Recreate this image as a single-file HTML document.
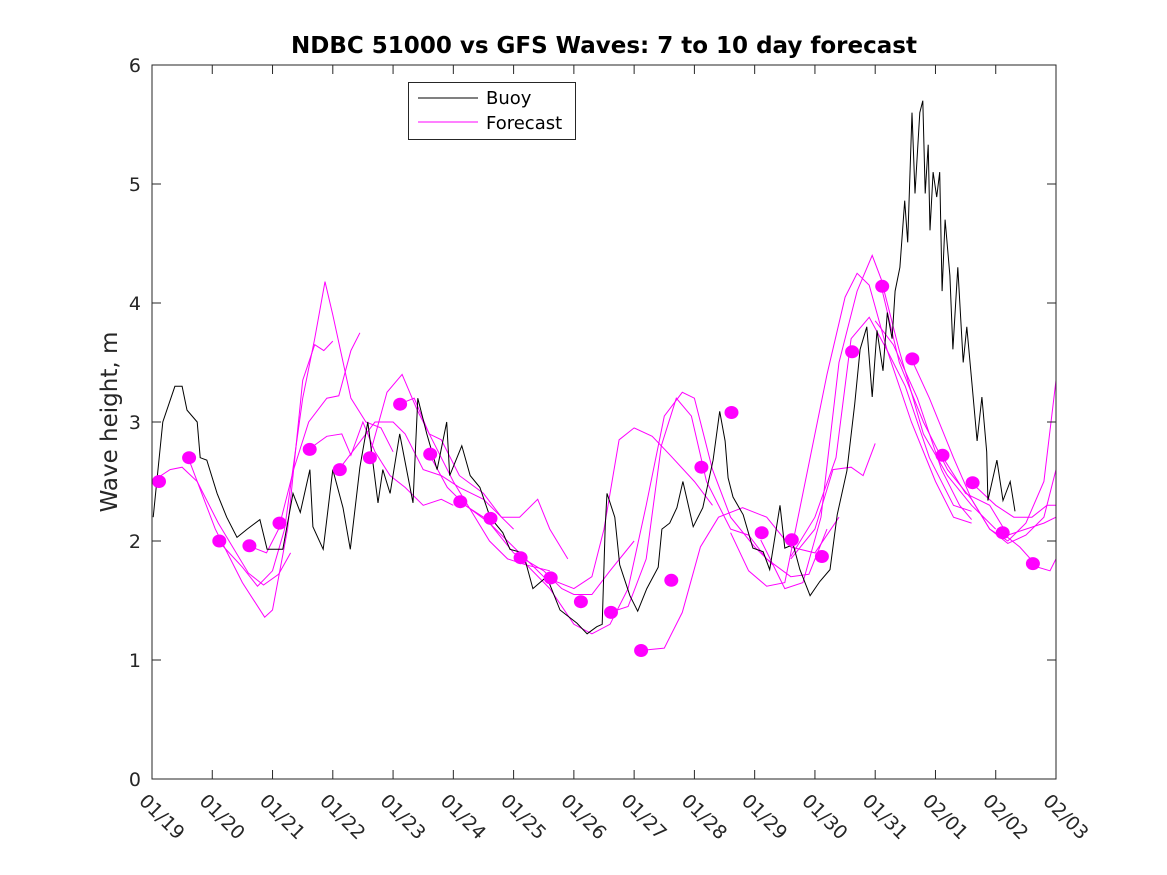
<!DOCTYPE html>
<html><head><meta charset="utf-8">
<style>
html,body{margin:0;padding:0;background:#fff;}
svg{display:block;font-family:"DejaVu Sans","Liberation Sans",sans-serif;}
</style></head>
<body>
<svg id="chart" width="1167" height="875" viewBox="0 0 1167 875" xmlns="http://www.w3.org/2000/svg">
<rect width="1167" height="875" fill="#fff"/>
<text x="604" y="53" text-anchor="middle" font-size="23" font-weight="bold" fill="#000">NDBC 51000 vs GFS Waves: 7 to 10 day forecast</text>
<text transform="translate(117,422) rotate(-90)" text-anchor="middle" font-size="23" fill="#262626">Wave height, m</text>
<g id="plot"></g>
<g id="axes"></g>
<g>
<rect x="408.5" y="82.5" width="167" height="57" fill="#fff" stroke="#262626" stroke-width="1"/>
<line x1="418" y1="98" x2="478" y2="98" stroke="#000" stroke-width="1"/>
<text x="486" y="104" font-size="18" fill="#000">Buoy</text>
<line x1="418" y1="122" x2="478" y2="122" stroke="#ff00ff" stroke-width="1"/>
<text x="486" y="129" font-size="18" fill="#000">Forecast</text>
</g>
</svg>
<script>
const xTickLabels=["01/19","01/20","01/21","01/22","01/23","01/24","01/25","01/26","01/27","01/28","01/29","01/30","01/31","02/01","02/02","02/03"];
const yTicks=[0,1,2,3,4,5,6];
const buoyDay=[0.02,0.18,0.38,0.50,0.58,0.75,0.80,0.91,1.08,1.24,1.41,1.58,1.79,1.91,2.17,2.34,2.46,2.62,2.67,2.84,3.00,3.17,3.29,3.45,3.58,3.75,3.83,3.95,4.11,4.33,4.41,4.56,4.73,4.89,4.94,5.14,5.28,5.44,5.61,5.82,5.94,6.16,6.32,6.55,6.77,7.05,7.22,7.38,7.47,7.52,7.55,7.68,7.76,7.93,8.06,8.21,8.40,8.46,8.59,8.71,8.81,8.98,9.14,9.31,9.42,9.51,9.56,9.64,9.81,9.97,10.14,10.25,10.42,10.50,10.64,10.75,10.92,11.08,11.25,11.37,11.53,11.66,11.75,11.86,11.95,12.03,12.13,12.20,12.28,12.33,12.41,12.49,12.54,12.61,12.66,12.74,12.79,12.83,12.88,12.91,12.96,13.02,13.07,13.11,13.16,13.24,13.29,13.37,13.46,13.52,13.61,13.69,13.77,13.85,13.87,14.02,14.12,14.24,14.32];
const buoyHs=[2.2,3.0,3.3,3.3,3.1,3.0,2.7,2.68,2.4,2.2,2.03,2.1,2.18,1.93,1.93,2.4,2.24,2.6,2.12,1.93,2.6,2.28,1.93,2.62,3.0,2.32,2.6,2.4,2.9,2.32,3.2,2.9,2.6,3.0,2.55,2.8,2.55,2.45,2.2,2.07,1.93,1.9,1.6,1.7,1.42,1.31,1.22,1.28,1.3,2.12,2.4,2.2,1.8,1.54,1.41,1.6,1.78,2.1,2.15,2.28,2.5,2.12,2.28,2.68,3.09,2.84,2.53,2.37,2.22,1.94,1.91,1.76,2.3,1.94,1.97,1.76,1.54,1.66,1.76,2.22,2.59,3.15,3.61,3.8,3.21,3.77,3.43,3.92,3.7,4.1,4.3,4.86,4.51,5.6,4.92,5.6,5.7,4.92,5.33,4.61,5.1,4.89,5.1,4.1,4.7,4.23,3.61,4.3,3.5,3.8,3.3,2.84,3.21,2.75,2.34,2.68,2.34,2.5,2.25];
const dotDay=[0.116,0.616,1.116,1.616,2.116,2.616,3.116,3.616,4.116,4.616,5.116,5.616,6.116,6.616,7.116,7.616,8.116,8.616,9.116,9.616,10.116,10.616,11.116,11.616,12.116,12.616,13.116,13.616,14.116,14.616];
const dotHs=[2.5,2.7,2.0,1.96,2.15,2.77,2.6,2.7,3.15,2.73,2.33,2.19,1.86,1.69,1.49,1.40,1.08,1.67,2.62,3.08,2.07,2.01,1.87,3.59,4.14,3.53,2.72,2.49,2.07,1.81];
const fcA=[[0.0,2.5],[0.3,2.6],[0.5,2.62],[0.75,2.5],[1.1,2.15],[1.6,1.73],[1.85,1.63],[2.1,1.72],[2.3,1.9]];
const fcB=[[0.6,2.7],[1.05,2.1],[1.5,1.65],[1.87,1.36],[2.0,1.42],[2.25,2.1],[2.5,3.35],[2.7,3.65],[2.85,3.6],[3.0,3.68]];
const fcC=[[1.1,2.0],[1.5,1.78],[1.75,1.62],[2.0,1.75],[2.2,2.1],[2.5,3.2],[2.7,3.7],[2.87,4.18],[3.0,3.9],[3.3,3.2],[3.55,3.0],[3.8,2.95],[4.0,2.75]];
const fcD=[[1.6,1.96],[1.9,1.9],[2.1,2.1],[2.35,2.6],[2.6,3.0],[2.9,3.2],[3.1,3.22],[3.3,3.6],[3.45,3.75]];
const fcE=[[2.6,2.77],[2.9,2.88],[3.15,2.9],[3.3,2.72],[3.5,3.0],[3.7,2.75],[3.95,2.55],[4.2,2.45],[4.5,2.3],[4.8,2.35],[5.0,2.3]];
const fcF=[[3.1,2.6],[3.4,2.8],[3.7,3.0],[4.0,3.0],[4.2,2.9],[4.5,2.6],[4.8,2.55],[5.1,2.45],[5.5,2.35],[5.8,2.2],[6.0,2.1]];
const fcG=[[3.6,2.7],[3.9,3.25],[4.15,3.4],[4.4,3.1],[4.7,2.8],[5.0,2.5],[5.3,2.25],[5.6,2.0],[5.9,1.85],[6.2,1.8],[6.6,1.75]];
const fcH=[[4.1,3.15],[4.35,3.2],[4.6,2.9],[4.8,2.85],[5.1,2.55],[5.5,2.4],[5.8,2.2],[6.1,2.2],[6.4,2.35],[6.6,2.1],[6.9,1.85]];
const fcI=[[4.6,2.73],[4.9,2.45],[5.2,2.3],[5.6,2.15],[6.0,1.9],[6.5,1.75],[6.8,1.6],[7.0,1.55],[7.3,1.55],[7.6,1.75],[8.0,2.0]];
const fcJ=[[5.1,2.33],[5.5,2.2],[6.0,1.95],[6.5,1.7],[7.0,1.6],[7.3,1.7],[7.5,2.1],[7.75,2.85],[8.0,2.95],[8.3,2.88],[8.6,2.72],[9.0,2.5],[9.3,2.3]];
const fcK=[[6.1,1.86],[6.6,1.6],[7.0,1.3],[7.3,1.22],[7.6,1.3],[7.9,1.6],[8.2,2.3],[8.5,3.05],[8.8,3.25],[9.0,3.2],[9.3,2.6],[9.6,2.2],[10.0,1.95],[10.3,1.8]];
const fcL=[[7.6,1.4],[7.9,1.45],[8.2,1.85],[8.45,2.8],[8.7,3.2],[8.95,3.05],[9.2,2.5],[9.6,2.1],[9.9,2.05],[10.2,1.85],[10.6,1.7],[10.9,1.72],[11.2,2.1]];
const fcM=[[8.1,1.08],[8.5,1.1],[8.8,1.4],[9.1,1.95],[9.4,2.2],[9.8,2.28],[10.2,2.2],[10.6,1.95],[11.0,1.9],[11.4,2.2]];
const fcN=[[9.6,2.07],[9.9,1.75],[10.2,1.62],[10.5,1.65],[10.8,2.4],[11.2,3.4],[11.5,4.05],[11.7,4.25],[11.9,4.15],[12.2,3.6],[12.6,3.0],[13.0,2.5],[13.3,2.2],[13.6,2.15]];
const fcO=[[10.1,2.01],[10.5,1.6],[10.8,1.65],[11.1,2.2],[11.4,3.5],[11.7,4.1],[11.95,4.4],[12.1,4.2],[12.4,3.6],[12.8,2.9],[13.2,2.55],[13.6,2.3],[14.0,2.1]];
const fcP=[[10.6,1.87],[11.0,2.2],[11.35,2.7],[11.6,3.7],[11.9,3.88],[12.2,3.6],[12.5,3.3],[12.9,2.7],[13.3,2.3],[13.6,2.25]];
const fcQ=[[10.6,1.85],[11.0,2.1],[11.3,2.6],[11.6,2.62],[11.8,2.55],[12.0,2.82]];
const fcR=[[12.1,4.14],[12.4,3.5],[12.8,3.0],[13.2,2.6],[13.6,2.35],[13.9,2.1],[14.2,1.98],[14.5,2.05],[14.8,2.2],[15.0,2.6]];
const fcS=[[12.6,3.53],[12.9,3.2],[13.3,2.7],[13.6,2.35],[13.9,2.1],[14.2,2.0],[14.5,2.15],[14.8,2.5],[15.0,3.35]];
const fcT=[[13.1,2.72],[13.5,2.4],[13.9,2.3],[14.2,2.05],[14.5,2.1],[14.8,2.15],[15.0,2.2]];
const fcU=[[13.6,2.49],[14.0,2.3],[14.3,2.2],[14.6,2.2],[14.85,2.3],[15.0,2.3]];
const fcV=[[14.1,2.07],[14.4,1.95],[14.7,1.78],[14.9,1.75],[15.0,1.85]];
const fcW=[[12.0,3.85],[12.3,3.65],[12.7,3.2],[13.1,2.6],[13.4,2.3],[13.6,2.18]];
const forecasts=[fcA,fcB,fcC,fcD,fcE,fcF,fcG,fcH,fcI,fcJ,fcK,fcL,fcM,fcN,fcO,fcP,fcQ,fcR,fcS,fcT,fcU,fcV,fcW];

const NS="http://www.w3.org/2000/svg";
const L=152,R=1056,T=65,B=779,XMAX=15,YMAX=6;
function xs(d){return L+(R-L)*d/XMAX;}
function ys(v){return B-(B-T)*v/YMAX;}
const plot=document.getElementById('plot');
const axes=document.getElementById('axes');
function mk(tag,attrs,parent){const e=document.createElementNS(NS,tag);for(const k in attrs)e.setAttribute(k,attrs[k]);parent.appendChild(e);return e;}

forecasts.forEach((f,i)=>{
  const p=mk('polyline',{points:f.map(q=>xs(q[0]).toFixed(1)+','+ys(q[1]).toFixed(1)).join(' '),fill:'none',stroke:'#ff00ff','stroke-width':1},plot);
  
  
});
const bl=mk('polyline',{points:buoyDay.map((d,i)=>xs(d).toFixed(1)+','+ys(buoyHs[i]).toFixed(1)).join(' '),fill:'none',stroke:'#000','stroke-width':1},plot);


dotDay.forEach((d,i)=>{
  const c=mk('ellipse',{cx:xs(d).toFixed(1),cy:ys(dotHs[i]).toFixed(1),rx:7,ry:6.5,fill:'#ff00ff'},plot);
  
  
});

const frame=mk('rect',{x:L,y:T,width:R-L,height:B-T,fill:'none',stroke:'#262626','stroke-width':1},axes);


yTicks.forEach(v=>{
  const y=ys(v);
  mk('line',{x1:L,y1:y,x2:L+9,y2:y,stroke:'#262626'},axes);
  mk('line',{x1:R,y1:y,x2:R-9,y2:y,stroke:'#262626'},axes);
  const t=mk('text',{x:L-11,y:y+7,'text-anchor':'end','font-size':19,fill:'#262626'},axes);
  t.textContent=v;
  
  
});
xTickLabels.forEach((lab,i)=>{
  const x=xs(i);
  mk('line',{x1:x,y1:B,x2:x,y2:B-9,stroke:'#262626'},axes);
  mk('line',{x1:x,y1:T,x2:x,y2:T+9,stroke:'#262626'},axes);
  const t=mk('text',{x:0,y:0,transform:'translate('+(x-14)+',802) rotate(45)','font-size':19,fill:'#262626'},axes);
  t.textContent=lab;
  
  
});
</script>
</body></html>
